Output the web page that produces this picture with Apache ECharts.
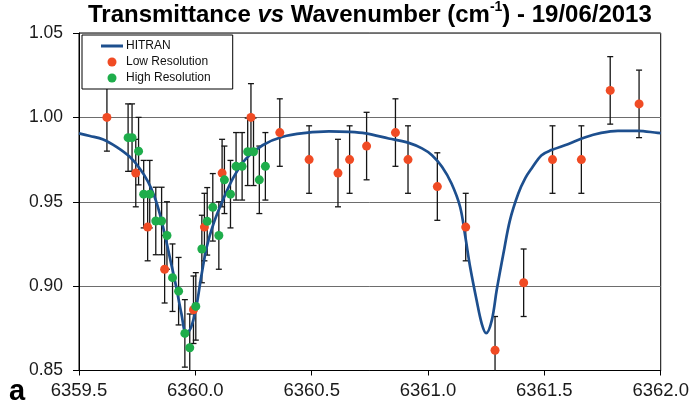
<!DOCTYPE html>
<html>
<head>
<meta charset="utf-8">
<script src="https://cdn.jsdelivr.net/npm/echarts@6/dist/echarts.min.js"></script>
<style>
  html, body { margin: 0; padding: 0; background: #fff; }
  #chart { width: 692px; height: 408px; }
</style>
</head>
<body>
<div id="chart"></div>
<script>
// HITRAN reference transmittance profile (wavenumber, transmittance)
const hitranX = [
  6359.500, 6359.547, 6359.604, 6359.661, 6359.718, 6359.761, 6359.797, 6359.825,
  6359.847, 6359.868, 6359.890, 6359.918, 6359.940, 6359.961, 6359.982, 6360.004,
  6360.025, 6360.049, 6360.078, 6360.118, 6360.165, 6360.218, 6360.289, 6360.375,
  6360.475, 6360.574, 6360.660, 6360.732, 6360.831, 6360.917, 6360.974, 6361.017,
  6361.060, 6361.101, 6361.138, 6361.160, 6361.181, 6361.209, 6361.231, 6361.250,
  6361.274, 6361.295, 6361.324, 6361.352, 6361.388, 6361.418, 6361.445, 6361.488,
  6361.530, 6361.601, 6361.673, 6361.744, 6361.816, 6361.901, 6361.987, 6362.000
];
const hitranY = [
  0.9905, 0.9890, 0.9869, 0.9825, 0.9766, 0.9697, 0.9618, 0.9528,
  0.9430, 0.9311, 0.9172, 0.8994, 0.8837, 0.8718, 0.8757, 0.8876,
  0.9054, 0.9232, 0.9370, 0.9509, 0.9647, 0.9756, 0.9835, 0.9885,
  0.9908, 0.9917, 0.9914, 0.9905, 0.9875, 0.9849, 0.9816, 0.9776,
  0.9707, 0.9608, 0.9469, 0.9295, 0.9113, 0.8915, 0.8777, 0.8721,
  0.8797, 0.8975, 0.9193, 0.9390, 0.9549, 0.9640, 0.9697, 0.9776,
  0.9806, 0.9841, 0.9881, 0.9908, 0.9920, 0.9920, 0.9908, 0.9907
];

// Low resolution measurements
const lowX = [
  6359.620, 6359.744, 6359.795, 6359.868, 6359.992, 6360.039, 6360.115, 6360.239,
  6360.363, 6360.489, 6360.613, 6360.663, 6360.736, 6360.860, 6360.914, 6361.040,
  6361.162, 6361.288, 6361.411, 6361.535, 6361.659, 6361.783, 6361.907
];
const lowY = [
  1.000, 0.967, 0.935, 0.910, 0.886, 0.935, 0.967, 1.000,
  0.991, 0.975, 0.967, 0.975, 0.983, 0.991, 0.975, 0.959,
  0.935, 0.862, 0.902, 0.975, 0.975, 1.016, 1.008
];
const lowErr = [
  0.02, 0.02, 0.02, 0.02, 0.02, 0.02, 0.02, 0.02,
  0.02, 0.02, 0.02, 0.02, 0.02, 0.02, 0.02, 0.02,
  0.02, 0.02, 0.02, 0.02, 0.02, 0.02, 0.02
];

// High resolution measurements
const highX = [
  6359.711, 6359.728, 6359.756, 6359.778, 6359.804, 6359.830, 6359.855, 6359.878,
  6359.902, 6359.928, 6359.955, 6359.976, 6360.002, 6360.028, 6360.051, 6360.075,
  6360.101, 6360.125, 6360.151, 6360.175, 6360.201, 6360.225, 6360.250, 6360.275,
  6360.301
];
const highY = [
  0.988, 0.988, 0.980, 0.9545, 0.9545, 0.9386, 0.9386, 0.930,
  0.905, 0.897, 0.872, 0.8635, 0.888, 0.922, 0.9384, 0.9467,
  0.930, 0.963, 0.9545, 0.971, 0.971, 0.9796, 0.9796, 0.963,
  0.971
];
const highErr = [
  0.02, 0.02, 0.02, 0.02, 0.02, 0.02, 0.02, 0.02,
  0.02, 0.02, 0.02, 0.02, 0.02, 0.02, 0.02, 0.02,
  0.02, 0.02, 0.02, 0.02, 0.02, 0.02, 0.02, 0.02,
  0.02
];

const Y_MIN = 0.85, Y_MAX = 1.05;
const FONT = '"Liberation Sans", Arial, sans-serif';
const RED = '#f04b24';
const GREEN = '#1ead4b';
const BLUE = '#1d4f8e';

const zip = (xs, ys, es) => xs.map((x, i) => es ? [x, ys[i], es[i]] : [x, ys[i]]);

// Vertical error bar with caps, trimmed to the plotted value range
function errorBar(params, api) {
  const x = api.value(0), y = api.value(1), e = api.value(2);
  const hi = Math.min(y + e, Y_MAX), lo = Math.max(y - e, Y_MIN);
  const pHi = api.coord([x, hi]);
  const pLo = api.coord([x, lo]);
  const half = 3;
  const style = { stroke: '#151515', lineWidth: 1.3 };
  const children = [
    { type: 'line', shape: { x1: pHi[0], y1: pHi[1], x2: pLo[0], y2: pLo[1] }, style }
  ];
  if (y + e <= Y_MAX) {
    children.push({ type: 'line', shape: { x1: pHi[0] - half, y1: pHi[1], x2: pHi[0] + half, y2: pHi[1] }, style });
  }
  if (y - e >= Y_MIN) {
    children.push({ type: 'line', shape: { x1: pLo[0] - half, y1: pLo[1], x2: pLo[0] + half, y2: pLo[1] }, style });
  }
  return { type: 'group', children };
}

const chart = echarts.init(document.getElementById('chart'), null, { renderer: 'canvas' });

chart.setOption({
  animation: false,
  backgroundColor: '#ffffff',
  title: {
    text: '{b|Transmittance }{i|vs}{b| Wavenumber (cm}{s|-1}{b|) - 19/06/2013}',
    left: 88,
    top: 0,
    padding: 0,
    textStyle: {
      rich: {
        b: { fontFamily: FONT, fontWeight: 'bold', fontSize: 24, color: '#000', lineHeight: 30 },
        i: { fontFamily: FONT, fontWeight: 'bold', fontStyle: 'italic', fontSize: 24, color: '#000', lineHeight: 30 },
        s: { fontFamily: FONT, fontWeight: 'bold', fontSize: 14, color: '#000', lineHeight: 30, verticalAlign: 'top', padding: [0, 0, 12, 0] }
      }
    }
  },
  graphic: [
    {
      type: 'text',
      left: 9,
      top: 377,
      style: { text: 'a', font: 'bold 29px ' + FONT, fill: '#000' }
    }
  ],
  legend: {
    orient: 'vertical',
    left: 82,
    top: 35,
    padding: [5, 22, 5, 19],
    itemGap: 4,
    itemWidth: 22,
    itemHeight: 9,
    borderColor: '#000',
    borderWidth: 1,
    backgroundColor: '#fff',
    textStyle: { fontFamily: FONT, fontSize: 12, color: '#111', padding: [0, 0, 0, -2] },
    data: [
      { name: 'HITRAN', icon: 'path://M0,0H22V3H0Z' },
      { name: 'Low Resolution', icon: 'circle' },
      { name: 'High Resolution', icon: 'circle' }
    ]
  },
  grid: {
    left: 79,
    right: 29,
    top: 33,
    bottom: 37.5,
    show: true,
    borderColor: '#000',
    borderWidth: 1
  },
  xAxis: {
    type: 'value',
    min: 6359.5,
    max: 6362.0,
    interval: 0.5,
    axisLine: { show: true, onZero: false, lineStyle: { color: '#000', width: 1 } },
    axisTick: { show: true, inside: false, length: 5, lineStyle: { color: '#000' } },
    splitLine: { show: false },
    axisLabel: {
      margin: 11,
      fontFamily: FONT,
      fontSize: 18.5,
      color: '#1a1a1a',
      formatter: v => v.toFixed(1)
    }
  },
  yAxis: {
    type: 'value',
    min: Y_MIN,
    max: Y_MAX,
    interval: 0.05,
    axisLine: { show: true, lineStyle: { color: '#000', width: 1 } },
    axisTick: { show: true, inside: false, length: 6, lineStyle: { color: '#000' } },
    splitLine: { show: true, lineStyle: { color: '#6d6d6d', width: 1 } },
    axisLabel: {
      margin: 16,
      fontFamily: FONT,
      fontSize: 17.5,
      color: '#1a1a1a',
      formatter: v => v.toFixed(2)
    }
  },
  series: [
    {
      name: 'lowErr',
      type: 'custom',
      renderItem: errorBar,
      encode: { x: 0, y: 1 },
      data: zip(lowX, lowY, lowErr),
      z: 1,
      silent: true
    },
    {
      name: 'highErr',
      type: 'custom',
      renderItem: errorBar,
      encode: { x: 0, y: 1 },
      data: zip(highX, highY, highErr),
      z: 1,
      silent: true
    },
    {
      name: 'HITRAN',
      type: 'line',
      data: zip(hitranX, hitranY),
      symbol: 'none',
      smooth: 0.35,
      color: BLUE,
      lineStyle: { color: BLUE, width: 2.7 },
      z: 2
    },
    {
      name: 'Low Resolution',
      type: 'scatter',
      data: zip(lowX, lowY),
      symbol: 'circle',
      symbolSize: 9,
      itemStyle: { color: RED, opacity: 1 },
      z: 3
    },
    {
      name: 'High Resolution',
      type: 'scatter',
      data: zip(highX, highY),
      symbol: 'circle',
      symbolSize: 9,
      itemStyle: { color: GREEN, opacity: 1 },
      z: 4
    }
  ]
});
</script>
</body>
</html>
